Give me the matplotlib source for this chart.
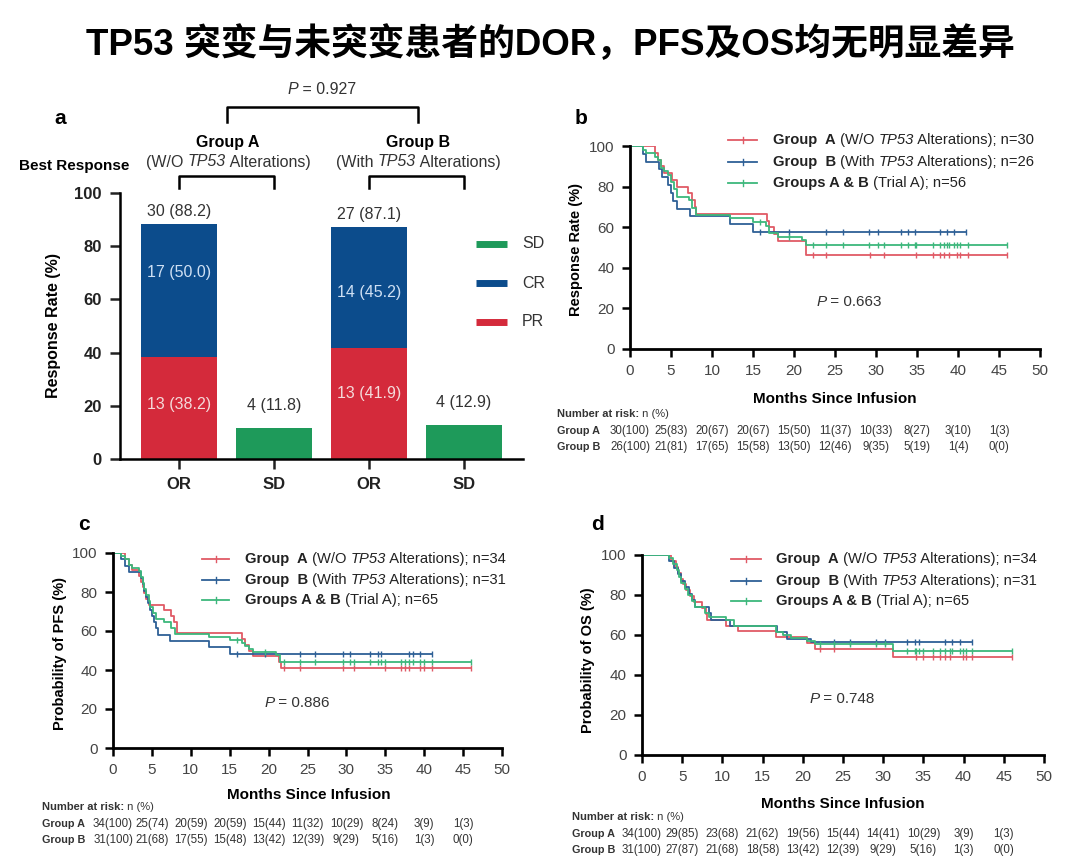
import numpy as np
import matplotlib
matplotlib.use("Agg")
import matplotlib.pyplot as plt
from matplotlib.lines import Line2D
from matplotlib import transforms

plt.rcParams["font.family"] = ["Liberation Sans", "DejaVu Sans"]

# ---- panel a data ----
bar_cats = ["OR", "SD", "OR", "SD"]
pr_vals = [38.2, 0, 41.9, 0]
cr_vals = [50.0, 0, 45.2, 0]
sd_vals = [0, 11.8, 0, 12.9]
or_n = [30, 27]
or_pct = [88.2, 87.1]
pr_n = [13, 13]
cr_n = [17, 14]
sd_n = [4, 4]

# ---- panel b: DOR ----
dor_a_t = [0, 3.0, 3.4, 3.8, 4.2, 5.1, 5.7, 7.1, 7.6, 7.9, 8.1, 16.7, 17.0, 17.5, 18.0, 21.5, 46]
dor_a_s = [100, 96.7, 93.3, 90.0, 86.7, 83.3, 80.0, 76.7, 73.3, 70.0, 66.7, 63.3, 60.0, 56.7, 53.3, 46.4, 46.4]
dor_b_t = [0, 1.6, 2.0, 3.5, 3.9, 4.6, 5.0, 5.3, 5.7, 7.3, 12.2, 15.0, 41]
dor_b_s = [100, 96.2, 92.3, 88.5, 84.6, 80.8, 76.9, 73.1, 69.2, 65.4, 61.5, 57.7, 57.7]
dor_ab_t = [0, 1.6, 2.0, 3.0, 3.4, 3.8, 4.2, 4.6, 5.0, 5.4, 5.7, 7.2, 7.6, 8.1, 12.2, 15.0, 16.6, 17.0, 18.0, 21.0, 21.5, 46]
dor_ab_s = [100, 98.2, 96.4, 94.6, 92.9, 89.3, 87.5, 85.7, 82.1, 78.6, 75.0, 73.2, 69.6, 66.1, 64.3, 62.5, 60.7, 57.1, 55.4, 53.6, 51.3, 51.3]
dor_a_cens = [22.3, 23.9, 29.3, 31.0, 34.9, 37.0, 37.8, 38.3, 38.9, 39.9, 40.3, 41.2, 46]
dor_b_cens = [15.8, 19.4, 23.9, 26.0, 29.2, 30.2, 33.1, 33.9, 34.7, 37.8, 38.7, 39.5, 41]
dor_ab_cens = [15.8, 19.4, 22.3, 23.9, 26.0, 29.2, 30.2, 31.0, 33.1, 33.9, 34.7, 34.9, 37.0, 37.8,
               38.3, 38.7, 38.9, 39.5, 39.9, 40.3, 41.2, 46]

# ---- panel c: PFS ----
pfs_a_t = [0, 1.6, 2.0, 2.4, 3.3, 3.6, 3.8, 4.0, 4.3, 4.6, 6.5, 7.4, 7.9, 8.2, 16.6, 17.0, 17.5, 18.0, 21.3, 21.6, 46]
pfs_a_s = [100, 97.1, 94.1, 91.2, 88.2, 85.3, 82.4, 79.4, 76.5, 73.5, 70.6, 67.6, 64.7, 58.8, 55.9, 52.9, 50.0, 47.1, 44.1, 40.8, 40.8]
pfs_b_t = [0, 1.0, 1.5, 2.0, 3.6, 3.8, 4.0, 4.3, 4.5, 4.8, 5.0, 5.3, 5.5, 5.8, 7.3, 12.3, 15.0, 41]
pfs_b_s = [100, 96.8, 93.5, 90.3, 87.1, 83.9, 80.6, 77.4, 74.2, 71.0, 67.7, 64.5, 61.3, 58.1, 54.8, 51.6, 48.4, 48.4]
pfs_ab_t = [0, 1.0, 1.5, 2.0, 2.4, 3.3, 3.6, 3.8, 4.0, 4.3, 4.6, 4.8, 5.2, 5.5, 6.5, 7.4, 8.0, 12.3, 15.0,
            16.6, 17.0, 17.5, 18.0, 21.0, 21.5, 46]
pfs_ab_s = [100, 98.5, 96.9, 93.8, 92.3, 90.8, 87.7, 84.6, 81.5, 78.5, 75.4, 72.3, 69.2, 66.2, 64.6, 61.5,
            58.5, 56.9, 55.4, 53.8, 52.3, 50.8, 49.2, 47.7, 44.3, 44.3]
pfs_a_cens = [22.0, 24.0, 29.5, 31.0, 35.0, 37.0, 37.5, 38.0, 39.5, 40.0, 41.0, 46]
pfs_b_cens = [16.0, 19.5, 24.0, 26.0, 29.5, 30.5, 33.0, 34.0, 34.5, 38.0, 38.5, 39.5, 41]
pfs_ab_cens = [16.0, 19.5, 22.0, 24.0, 26.0, 29.5, 30.5, 31.0, 33.0, 34.0, 34.5, 35.0, 37.0, 37.5,
               38.0, 38.5, 39.5, 40.0, 41.0, 46]

# ---- panel d: OS ----
os_a_t = [0, 3.6, 4.2, 4.5, 4.8, 5.1, 5.5, 6.0, 6.5, 7.5, 7.9, 8.1, 10.5, 12.0, 16.7, 20.5, 21.5, 31.2, 46]
os_a_s = [100, 97.1, 94.1, 91.2, 88.2, 85.3, 82.4, 79.4, 76.5, 73.5, 70.6, 67.6, 64.7, 61.8, 58.8, 55.9, 52.9, 48.8, 48.8]
os_b_t = [0, 3.4, 4.0, 4.5, 4.8, 5.3, 5.8, 6.2, 6.6, 8.3, 8.6, 11.0, 16.8, 18.0, 21.0, 41]
os_b_s = [100, 96.8, 93.5, 90.3, 87.1, 83.9, 80.6, 77.4, 74.2, 71.0, 67.7, 64.5, 61.3, 58.1, 56.7, 56.7]
os_ab_t = [0, 3.4, 3.8, 4.3, 4.6, 4.9, 5.3, 5.7, 6.2, 6.6, 7.8, 8.3, 10.5, 11.5, 16.7, 17.5, 18.5, 20.5, 21.5, 31.2, 46]
os_ab_s = [100, 98.5, 95.4, 92.3, 89.2, 86.2, 83.1, 80.0, 76.9, 73.8, 70.8, 69.2, 67.7, 64.6, 61.5, 60.0,
           58.5, 56.9, 55.4, 52.0, 52.0]
os_a_cens = [22.1, 23.9, 34.1, 35.0, 36.2, 37.1, 37.7, 38.3, 39.9, 40.3, 41.0, 46]
os_b_cens = [23.9, 25.9, 29.1, 30.2, 33.0, 33.9, 34.5, 37.7, 38.6, 39.6, 41]
os_ab_cens = [22.1, 23.9, 25.9, 29.1, 30.2, 33.0, 33.9, 34.1, 34.5, 35.0, 36.2, 37.1, 37.7, 38.3, 38.6,
              39.6, 39.9, 40.3, 41.0, 46]

# ---- number at risk ----
risk_ticks = [0, 5, 10, 15, 20, 25, 30, 35, 40, 45]
dor_risk_a = ["30(100)", "25(83)", "20(67)", "20(67)", "15(50)", "11(37)", "10(33)", "8(27)", "3(10)", "1(3)"]
dor_risk_b = ["26(100)", "21(81)", "17(65)", "15(58)", "13(50)", "12(46)", "9(35)", "5(19)", "1(4)", "0(0)"]
pfs_risk_a = ["34(100)", "25(74)", "20(59)", "20(59)", "15(44)", "11(32)", "10(29)", "8(24)", "3(9)", "1(3)"]
pfs_risk_b = ["31(100)", "21(68)", "17(55)", "15(48)", "13(42)", "12(39)", "9(29)", "5(16)", "1(3)", "0(0)"]
os_risk_a = ["34(100)", "29(85)", "23(68)", "21(62)", "19(56)", "15(44)", "14(41)", "10(29)", "3(9)", "1(3)"]
os_risk_b = ["31(100)", "27(87)", "21(68)", "18(58)", "13(42)", "12(39)", "9(29)", "5(16)", "1(3)", "0(0)"]

RED, BLUE, GREEN = "#d42a3b", "#0c4c8c", "#1e9a5a"
KRED, KBLUE, KGREEN = "#e05a66", "#2e6096", "#3db77c"
GRAY = "#333333"

W, H = 1080, 868
fig = plt.figure(figsize=(W / 100, H / 100), dpi=100)
renderer = fig.canvas.get_renderer()


def add_ax(l, t, r, b):
    return fig.add_axes([l / W, 1 - b / H, (r - l) / W, (b - t) / H])


def ptext(x, y, s, **kw):
    kw.setdefault("va", "center")
    return fig.text(x / W, 1 - y / H, s, **kw)


def pline(xs, ys, **kw):
    fig.add_artist(Line2D([x / W for x in xs], [1 - y / H for y in ys],
                          transform=fig.transFigure, **kw))


def rich(x, y, parts, size, ha="left", color=GRAY):
    # parts: list of (text, weight, style)
    texts = []
    cx = x
    for s, wt, st in parts:
        t = ptext(cx, y, s, ha="left", fontsize=size, fontweight=wt, fontstyle=st, color=color)
        cx += t.get_window_extent(renderer).width
        texts.append(t)
    if ha == "center":
        shift = (cx - x) / 2
        for t in texts:
            px, py = t.get_position()
            t.set_position((px - shift / W, py))


# title
ptext(550, 45, "TP53 突变与未突变患者的DOR，PFS及OS均无明显差异", ha="center",
      fontsize=26.5, fontweight="bold", family=["Liberation Sans", "Noto Sans CJK SC"])

# ================= panel a =================
ax = add_ax(120, 193, 523, 459)
x = np.arange(len(bar_cats))
ax.bar(x, pr_vals, width=0.8, color=RED)
ax.bar(x, cr_vals, width=0.8, bottom=pr_vals, color=BLUE)
ax.bar(x, sd_vals, width=0.8, color=GREEN)
ax.set_xlim(-0.62, 3.62)
ax.set_ylim(0, 100)
ax.set_yticks([0, 20, 40, 60, 80, 100])
ax.set_xticks(x)
ax.set_xticklabels(bar_cats, fontweight="bold", fontsize=12)
for lab in ax.get_yticklabels():
    lab.set_fontweight("bold")
    lab.set_fontsize(12)
for s in ["top", "right"]:
    ax.spines[s].set_visible(False)
for s in ["left", "bottom"]:
    ax.spines[s].set_linewidth(1.8)
ax.tick_params(direction="out", length=7, width=1.8, colors="#222222", pad=6)
ax.set_ylabel("Response Rate (%)", fontweight="bold", fontsize=11.5, labelpad=10)

# value labels
for i, gi in enumerate([0, 2]):
    tot = pr_vals[gi] + cr_vals[gi]
    ax.text(gi, tot + 4.7, f"{or_n[i]} ({or_pct[i]})", ha="center", va="center", fontsize=11.5, color=GRAY)
    ax.text(gi, [20.5, 24.5][i], f"{pr_n[i]} ({pr_vals[gi]})", ha="center", va="center",
            fontsize=11.5, color="#f4dada")
    ax.text(gi, [70.0, 62.5][i], f"{cr_n[i]} ({cr_vals[gi]:.1f})", ha="center", va="center",
            fontsize=11.5, color="#cfe0f4")
for i, gi in enumerate([1, 3]):
    ax.text(gi, sd_vals[gi] + 8.5, f"{sd_n[i]} ({sd_vals[gi]})", ha="center", va="center",
            fontsize=11.5, color=GRAY)

# legend for bars
for y, lab, col in [(244, "SD", GREEN), (283, "CR", BLUE), (322, "PR", RED)]:
    pline([476, 507], [y, y], color=col, lw=5, solid_capstyle="butt")
    ptext(522, y, lab, ha="left", fontsize=11.5, color=GRAY)

ptext(60, 119, "a", ha="center", fontsize=15, fontweight="bold")
ptext(19, 166, "Best Response", ha="left", fontsize=11, fontweight="bold")
ptext(228, 142, "Group A", ha="center", fontsize=11.5, fontweight="bold")
rich(228, 162, [("(W/O ", "normal", "normal"), ("TP53", "normal", "italic"),
                (" Alterations)", "normal", "normal")], 11.5, ha="center")
ptext(418, 142, "Group B", ha="center", fontsize=11.5, fontweight="bold")
rich(418, 162, [("(With ", "normal", "normal"), ("TP53", "normal", "italic"),
                (" Alterations)", "normal", "normal")], 11.5, ha="center")
pline([179, 179, 274, 274], [188, 176, 176, 188], color="black", lw=1.8)
pline([369, 369, 464, 464], [188, 176, 176, 188], color="black", lw=1.8)
pline([227, 227, 418, 418], [122, 107, 107, 122], color="black", lw=1.8)
rich(322, 90, [("P", "normal", "italic"), (" = 0.927", "normal", "normal")], 11.5, ha="center")


# ================= KM panels =================
def km_panel(box, curves, ylabel, ylab_pos, letter_pos, letter, leg, pval, xlab_pos, risk, risk_pos):
    ax = add_ax(*box)
    for t, s, cens, col in curves:
        t = np.asarray(t)
        s = np.asarray(s)
        ax.step(t, s, where="post", color=col, lw=1.3)
        idx = np.searchsorted(t, cens, side="right") - 1
        ax.plot(cens, s[np.clip(idx, 0, len(s) - 1)], ls="none", marker="|", ms=5, mew=1, color=col)
    ax.set_xlim(0, 50)
    ax.set_ylim(0, 100)
    ax.set_xticks(range(0, 51, 5))
    ax.set_yticks(range(0, 101, 20))
    for s in ["top", "right"]:
        ax.spines[s].set_visible(False)
    for s in ["left", "bottom"]:
        ax.spines[s].set_linewidth(2.0)
    ax.tick_params(direction="out", length=6, width=1.8, labelsize=11, labelcolor="#444444", pad=5)
    ptext(ylab_pos[0], ylab_pos[1], ylabel, ha="center", rotation=90, fontsize=10.5, fontweight="bold")
    ptext(letter_pos[0], letter_pos[1], letter, ha="center", fontsize=15, fontweight="bold")
    ptext(xlab_pos[0], xlab_pos[1], "Months Since Infusion", ha="center", fontsize=11, fontweight="bold")
    rich(pval[0], pval[1], [("P", "normal", "italic"), (" = " + pval[2], "normal", "normal")], 11, ha="center")
    # legend
    lx0, lx1, tx, rows = leg
    for (y, parts), col in zip(rows, [KRED, KBLUE, KGREEN]):
        pline([lx0, lx1], [y, y], color=col, lw=1.3)
        pline([(lx0 + lx1) / 2] * 2, [y - 3, y + 3], color=col, lw=1)
        rich(tx, y, parts, 10.6, color="#222222")
    # number at risk
    rx, ry = risk_pos
    rich(rx, ry, [("Number at risk:", "bold", "normal"), (" n (%)", "normal", "normal")], 8)
    trans = transforms.blended_transform_factory(ax.transData, fig.transFigure)
    for k, (name, vals) in enumerate(zip(["Group A", "Group B"], risk)):
        yy = ry + 17 + 16 * k
        ptext(rx, yy, name, ha="left", fontsize=7.8, fontweight="bold", color=GRAY)
        for xv, v in zip(risk_ticks, vals):
            ax.text(xv, 1 - yy / H, v, transform=trans, ha="center", va="center", fontsize=8.3, color=GRAY)
    return ax


def leg_rows(ys, na, nb, nab):
    return [(ys[0], [("Group  A", "bold", "normal"), (" (W/O ", "normal", "normal"), ("TP53", "normal", "italic"),
                     (" Alterations); n=" + str(na), "normal", "normal")]),
            (ys[1], [("Group  B", "bold", "normal"), (" (With ", "normal", "normal"), ("TP53", "normal", "italic"),
                     (" Alterations); n=" + str(nb), "normal", "normal")]),
            (ys[2], [("Groups A & B", "bold", "normal"), (" (Trial A); n=" + str(nab), "normal", "normal")])]


km_panel((630, 146, 1040, 349),
         [(dor_a_t, dor_a_s, dor_a_cens, KRED), (dor_b_t, dor_b_s, dor_b_cens, KBLUE),
          (dor_ab_t, dor_ab_s, dor_ab_cens, KGREEN)],
         "Response Rate (%)", (576, 250), (581, 118), "b",
         (728, 757, 773, leg_rows([140, 162, 183], 30, 26, 56)), (849, 302, "0.663"), (835, 399),
         (dor_risk_a, dor_risk_b), (557, 414))

km_panel((113, 553, 502, 748),
         [(pfs_a_t, pfs_a_s, pfs_a_cens, KRED), (pfs_b_t, pfs_b_s, pfs_b_cens, KBLUE),
          (pfs_ab_t, pfs_ab_s, pfs_ab_cens, KGREEN)],
         "Probability of PFS (%)", (60, 653), (84, 525), "c",
         (202, 229, 245, leg_rows([559, 580, 600], 34, 31, 65)), (297, 703, "0.886"), (309, 795),
         (pfs_risk_a, pfs_risk_b), (42, 807))

km_panel((642, 555, 1044, 755),
         [(os_a_t, os_a_s, os_a_cens, KRED), (os_b_t, os_b_s, os_b_cens, KBLUE),
          (os_ab_t, os_ab_s, os_ab_cens, KGREEN)],
         "Probability of OS (%)", (588, 660), (597, 525), "d",
         (731, 761, 776, leg_rows([559, 581, 601], 34, 31, 65)), (842, 699, "0.748"), (843, 804),
         (os_risk_a, os_risk_b), (572, 817))

fig.savefig("out.png", dpi=100)
